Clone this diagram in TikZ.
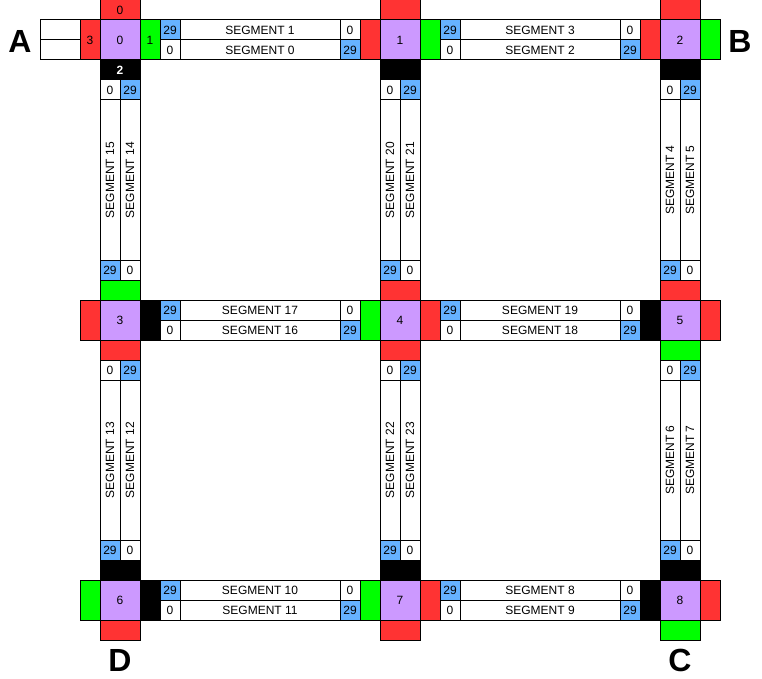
\documentclass[tikz,border=0pt]{standalone}
\usepackage{fontspec}
\setmainfont{Liberation Sans}
\usetikzlibrary{positioning}
\definecolor{portred}{HTML}{FF3333}
\definecolor{portgreen}{HTML}{00FF00}
\definecolor{hubpurple}{HTML}{CC99FF}
\definecolor{idxblue}{HTML}{66B2FF}

\begin{document}
\begin{tikzpicture}[x=1pt,y=-1pt,line join=miter,
    box/.style={draw,line width=1pt,inner sep=0pt,outer sep=0pt,font=\fontsize{12}{12}\selectfont},
    hub/.style={box,fill=hubpurple,minimum width=40pt,minimum height=40pt},
    porth/.style={box,minimum width=40pt,minimum height=20pt},
    portv/.style={box,minimum width=20pt,minimum height=40pt},
    lo/.style={box,minimum width=20pt,minimum height=20pt},
    hi/.style={lo,fill=idxblue},
    segh/.style={box,minimum width=160pt,minimum height=20pt},
    segv/.style={box,minimum width=20pt,minimum height=160pt},
    corner/.style={font=\fontsize{32}{32}\selectfont\bfseries}]
  \useasboundingbox (0,0) rectangle (762,679);

  % hubs
  \foreach \i/\x/\y in {0/120/40,1/400/40,2/680/40,3/120/320,4/400/320,5/680/320,6/120/600,7/400/600,8/680/600}
    \node[hub] (h\i) at (\x,\y) {\i};

  % ports of hub 0 carry their numbers
  \node[porth,fill=portred,above=0pt of h0] (pt0) {0};
  \node[portv,fill=portgreen,right=0pt of h0] (pr0) {1};
  \node[porth,fill=black,text=white,below=0pt of h0] (pb0) {\textbf{2}};
  \node[portv,fill=portred,left=0pt of h0] (pl0) {3};
  \node[lo,minimum width=40pt,anchor=south east] (in0a) at (pl0.west) {};
  \node[lo,minimum width=40pt,anchor=north east] (in0b) at (pl0.west) {};

  % ports of the other hubs: top/right/bottom/left
  \foreach \i/\t/\r/\b/\l in {1/portred/portgreen/black/portred,
      2/portred/portgreen/black/portred,
      3/portgreen/black/portred/portred,
      4/portred/portred/portred/portgreen,
      5/portred/portred/portgreen/black,
      6/black/black/portred/portgreen,
      7/black/portred/portred/portgreen,
      8/black/portred/portgreen/black} {
    \node[porth,fill=\t,above=0pt of h\i] (pt\i) {};
    \node[portv,fill=\r,right=0pt of h\i] (pr\i) {};
    \node[porth,fill=\b,below=0pt of h\i] (pb\i) {};
    \node[portv,fill=\l,left=0pt of h\i] (pl\i) {};
  }

  % horizontal segments
  \foreach \h/\top/\bot in {0/1/0,1/3/2,3/17/16,4/19/18,6/10/11,7/8/9} {
    \node[hi,anchor=south west] (seg\top a) at (pr\h.east) {29};
    \node[segh,anchor=west] (seg\top) at (seg\top a.east) {SEGMENT \top};
    \node[lo,anchor=west] (seg\top b) at (seg\top.east) {0};
    \node[lo,anchor=north west] (seg\bot a) at (pr\h.east) {0};
    \node[segh,anchor=west] (seg\bot) at (seg\bot a.east) {SEGMENT \bot};
    \node[hi,anchor=west] (seg\bot b) at (seg\bot.east) {29};
  }

  % vertical segments
  \foreach \h/\lft/\rgt in {0/15/14,1/20/21,2/4/5,3/13/12,4/22/23,5/6/7} {
    \node[lo,anchor=north east] (seg\lft a) at (pb\h.south) {0};
    \node[segv,anchor=north] (seg\lft) at (seg\lft a.south) {\rotatebox{90}{SEGMENT \lft}};
    \node[hi,anchor=north] (seg\lft b) at (seg\lft.south) {29};
    \node[hi,anchor=north west] (seg\rgt a) at (pb\h.south) {29};
    \node[segv,anchor=north] (seg\rgt) at (seg\rgt a.south) {\rotatebox{90}{SEGMENT \rgt}};
    \node[lo,anchor=north] (seg\rgt b) at (seg\rgt.south) {0};
  }

  % corners
  \node[corner] (cA) at (20,41) {A};
  \node[corner] (cB) at (740,41) {B};
  \node[corner] (cC) at (680,660) {C};
  \node[corner] (cD) at (120,660) {D};
\end{tikzpicture}
\end{document}
